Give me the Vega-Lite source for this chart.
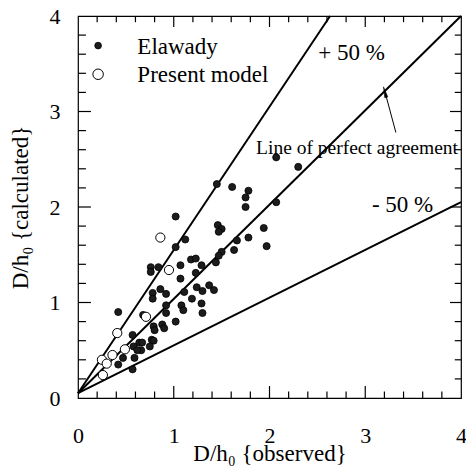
{
  "$schema": "https://vega.github.io/schema/vega-lite/v6.json",
  "width": 383,
  "height": 382,
  "autosize": {"type": "none"},
  "padding": {"left": 78, "top": 16, "right": 5, "bottom": 72},
  "background": "white",
  "config": {
    "view": {"stroke": "black", "strokeWidth": 1.2},
    "font": "Liberation Serif",
    "axis": {
      "grid": false, "domain": false, "ticks": false, "tickSize": 0,
      "labelColor": "black", "titleColor": "black",
      "labelFont": "Liberation Serif", "titleFont": "Liberation Serif",
      "labelFontSize": 22, "titleFontSize": 23, "titleFontWeight": "normal"
    }
  },
  "datasets": {
    "elawady": [
      {"x": 1.02, "y": 1.90}, {"x": 1.12, "y": 1.66}, {"x": 1.02, "y": 1.58}, {"x": 1.18, "y": 1.45},
      {"x": 1.23, "y": 1.46}, {"x": 1.07, "y": 1.39}, {"x": 0.76, "y": 1.37}, {"x": 0.76, "y": 1.32},
      {"x": 0.84, "y": 1.37}, {"x": 1.07, "y": 1.25}, {"x": 1.29, "y": 1.39}, {"x": 1.23, "y": 1.31},
      {"x": 2.07, "y": 2.52}, {"x": 2.30, "y": 2.42}, {"x": 1.45, "y": 2.24}, {"x": 1.61, "y": 2.21},
      {"x": 1.78, "y": 2.17}, {"x": 1.75, "y": 2.10}, {"x": 1.75, "y": 2.00}, {"x": 2.07, "y": 2.05},
      {"x": 1.46, "y": 1.81}, {"x": 1.50, "y": 1.77}, {"x": 1.47, "y": 1.74}, {"x": 1.94, "y": 1.78},
      {"x": 1.78, "y": 1.68}, {"x": 1.66, "y": 1.65}, {"x": 1.97, "y": 1.59}, {"x": 1.63, "y": 1.55},
      {"x": 1.50, "y": 1.53}, {"x": 1.47, "y": 1.49}, {"x": 1.44, "y": 1.42}, {"x": 1.24, "y": 1.16},
      {"x": 1.30, "y": 1.12}, {"x": 1.37, "y": 1.18}, {"x": 1.42, "y": 1.13}, {"x": 1.19, "y": 1.04},
      {"x": 1.29, "y": 0.99}, {"x": 1.30, "y": 0.89}, {"x": 0.78, "y": 1.10}, {"x": 0.78, "y": 1.04},
      {"x": 0.86, "y": 1.14}, {"x": 0.92, "y": 1.09}, {"x": 1.11, "y": 1.11}, {"x": 0.92, "y": 0.97},
      {"x": 0.92, "y": 0.89}, {"x": 1.08, "y": 0.97}, {"x": 1.10, "y": 0.92}, {"x": 1.02, "y": 0.80},
      {"x": 0.42, "y": 0.90}, {"x": 0.68, "y": 0.87}, {"x": 0.79, "y": 0.75}, {"x": 0.80, "y": 0.71},
      {"x": 0.88, "y": 0.77}, {"x": 0.90, "y": 0.73}, {"x": 0.77, "y": 0.61}, {"x": 0.79, "y": 0.60},
      {"x": 0.57, "y": 0.66}, {"x": 0.64, "y": 0.58}, {"x": 0.58, "y": 0.54}, {"x": 0.66, "y": 0.50},
      {"x": 0.75, "y": 0.54}, {"x": 0.62, "y": 0.50}, {"x": 0.47, "y": 0.42}, {"x": 0.59, "y": 0.42},
      {"x": 0.42, "y": 0.35}, {"x": 0.57, "y": 0.30}, {"x": 0.67, "y": 0.58}
    ],
    "present": [
      {"x": 0.86, "y": 1.68}, {"x": 0.95, "y": 1.34}, {"x": 0.71, "y": 0.85}, {"x": 0.41, "y": 0.68},
      {"x": 0.49, "y": 0.51}, {"x": 0.36, "y": 0.45}, {"x": 0.25, "y": 0.40}, {"x": 0.30, "y": 0.36},
      {"x": 0.26, "y": 0.24}
    ],
    "lines": [
      {"line": "perfect", "x": 0, "y": 0.05}, {"line": "perfect", "x": 4, "y": 4},
      {"line": "plus50", "x": 0, "y": 0.05}, {"line": "plus50", "x": 2.633, "y": 4},
      {"line": "minus50", "x": 0, "y": 0.05}, {"line": "minus50", "x": 4, "y": 2.05}
    ],
    "arrow": [{"x": 3.32, "y": 2.78}, {"x": 3.21, "y": 3.19}],
    "arrowhead": [{"x": 3.21, "y": 3.185}],
    "bigtext": [
      {"label": "+ 50 %", "x": 2.51, "y": 3.61},
      {"label": "- 50 %", "x": 3.07, "y": 2.02},
      {"label": "Elawady", "x": 0.62, "y": 3.68},
      {"label": "Present model", "x": 0.62, "y": 3.38}
    ],
    "smalltext": [{"label": "Line of perfect agreement", "x": 1.86, "y": 2.62}],
    "legfilled": [{"x": 0.21, "y": 3.69}],
    "legopen": [{"x": 0.21, "y": 3.39}],
    "major": [{"v": 1}, {"v": 2}, {"v": 3}],
    "minor": [{"v": 0.2}, {"v": 0.4}, {"v": 0.6}, {"v": 0.8}, {"v": 1.2}, {"v": 1.4}, {"v": 1.6}, {"v": 1.8},
              {"v": 2.2}, {"v": 2.4}, {"v": 2.6}, {"v": 2.8}, {"v": 3.2}, {"v": 3.4}, {"v": 3.6}, {"v": 3.8}]
  },
  "layer": [
    {
      "data": {"name": "lines"},
      "mark": {"type": "line", "stroke": "black", "strokeWidth": 2},
      "encoding": {
        "x": {"field": "x", "type": "quantitative", "scale": {"domain": [0, 4], "nice": false, "zero": false},
          "axis": {"values": [0, 1, 2, 3, 4], "labelPadding": 27, "format": "d", "labelFlush": false,
            "title": "D/h₀ {observed}", "titleY": 62, "titleBaseline": "alphabetic"}},
        "y": {"field": "y", "type": "quantitative", "scale": {"domain": [0, 4], "nice": false, "zero": false},
          "axis": {"values": [0, 1, 2, 3, 4], "labelPadding": 18, "format": "d", "labelFlush": false,
            "title": "D/h₀ {calculated}", "titleX": -51, "titleBaseline": "alphabetic"}},
        "detail": {"field": "line", "type": "nominal"}
      }
    },
    {
      "data": {"name": "major"},
      "mark": {"type": "rule", "stroke": "black", "strokeWidth": 1.2},
      "encoding": {"x": {"field": "v", "type": "quantitative"}, "y": {"datum": 0}, "y2": {"datum": 0.125}}
    },
    {
      "data": {"name": "major"},
      "mark": {"type": "rule", "stroke": "black", "strokeWidth": 1.2},
      "encoding": {"x": {"field": "v", "type": "quantitative"}, "y": {"datum": 4}, "y2": {"datum": 3.885}}
    },
    {
      "data": {"name": "major"},
      "mark": {"type": "rule", "stroke": "black", "strokeWidth": 1.2},
      "encoding": {"y": {"field": "v", "type": "quantitative"}, "x": {"datum": 0}, "x2": {"datum": 0.135}}
    },
    {
      "data": {"name": "major"},
      "mark": {"type": "rule", "stroke": "black", "strokeWidth": 1.2},
      "encoding": {"y": {"field": "v", "type": "quantitative"}, "x": {"datum": 4}, "x2": {"datum": 3.885}}
    },
    {
      "data": {"name": "minor"},
      "mark": {"type": "rule", "stroke": "black", "strokeWidth": 1.2},
      "encoding": {"x": {"field": "v", "type": "quantitative"}, "y": {"datum": 0}, "y2": {"datum": 0.068}}
    },
    {
      "data": {"name": "minor"},
      "mark": {"type": "rule", "stroke": "black", "strokeWidth": 1.2},
      "encoding": {"x": {"field": "v", "type": "quantitative"}, "y": {"datum": 4}, "y2": {"datum": 3.935}}
    },
    {
      "data": {"name": "minor"},
      "mark": {"type": "rule", "stroke": "black", "strokeWidth": 1.2},
      "encoding": {"y": {"field": "v", "type": "quantitative"}, "x": {"datum": 0}, "x2": {"datum": 0.083}}
    },
    {
      "data": {"name": "minor"},
      "mark": {"type": "rule", "stroke": "black", "strokeWidth": 1.2},
      "encoding": {"y": {"field": "v", "type": "quantitative"}, "x": {"datum": 4}, "x2": {"datum": 3.935}}
    },
    {
      "data": {"name": "arrow"},
      "mark": {"type": "line", "stroke": "black", "strokeWidth": 1},
      "encoding": {
        "x": {"field": "x", "type": "quantitative"},
        "y": {"field": "y", "type": "quantitative"}
      }
    },
    {
      "data": {"name": "arrowhead"},
      "mark": {"type": "point", "shape": "wedge", "size": 160, "angle": 345, "filled": true, "fill": "black", "stroke": "black", "strokeWidth": 0.5, "opacity": 1},
      "encoding": {
        "x": {"field": "x", "type": "quantitative"},
        "y": {"field": "y", "type": "quantitative"}
      }
    },
    {
      "data": {"name": "elawady"},
      "mark": {"type": "point", "filled": true, "fill": "#1c1c1c", "stroke": "black", "strokeWidth": 0.8, "size": 50, "opacity": 1},
      "encoding": {
        "x": {"field": "x", "type": "quantitative"},
        "y": {"field": "y", "type": "quantitative"}
      }
    },
    {
      "data": {"name": "present"},
      "mark": {"type": "point", "filled": true, "fill": "white", "stroke": "black", "strokeWidth": 1, "size": 85, "opacity": 1},
      "encoding": {
        "x": {"field": "x", "type": "quantitative"},
        "y": {"field": "y", "type": "quantitative"}
      }
    },
    {
      "data": {"name": "legfilled"},
      "mark": {"type": "point", "filled": true, "fill": "#1c1c1c", "stroke": "black", "strokeWidth": 0.8, "size": 45, "opacity": 1},
      "encoding": {
        "x": {"field": "x", "type": "quantitative"},
        "y": {"field": "y", "type": "quantitative"}
      }
    },
    {
      "data": {"name": "legopen"},
      "mark": {"type": "point", "filled": true, "fill": "white", "stroke": "black", "strokeWidth": 1, "size": 110, "opacity": 1},
      "encoding": {
        "x": {"field": "x", "type": "quantitative"},
        "y": {"field": "y", "type": "quantitative"}
      }
    },
    {
      "data": {"name": "bigtext"},
      "mark": {"type": "text", "font": "Liberation Serif", "fontSize": 23, "align": "left", "baseline": "middle", "color": "black"},
      "encoding": {
        "x": {"field": "x", "type": "quantitative"},
        "y": {"field": "y", "type": "quantitative"},
        "text": {"field": "label", "type": "nominal"}
      }
    },
    {
      "data": {"name": "smalltext"},
      "mark": {"type": "text", "font": "Liberation Serif", "fontSize": 19.5, "align": "left", "baseline": "middle", "color": "black"},
      "encoding": {
        "x": {"field": "x", "type": "quantitative"},
        "y": {"field": "y", "type": "quantitative"},
        "text": {"field": "label", "type": "nominal"}
      }
    }
  ]
}
